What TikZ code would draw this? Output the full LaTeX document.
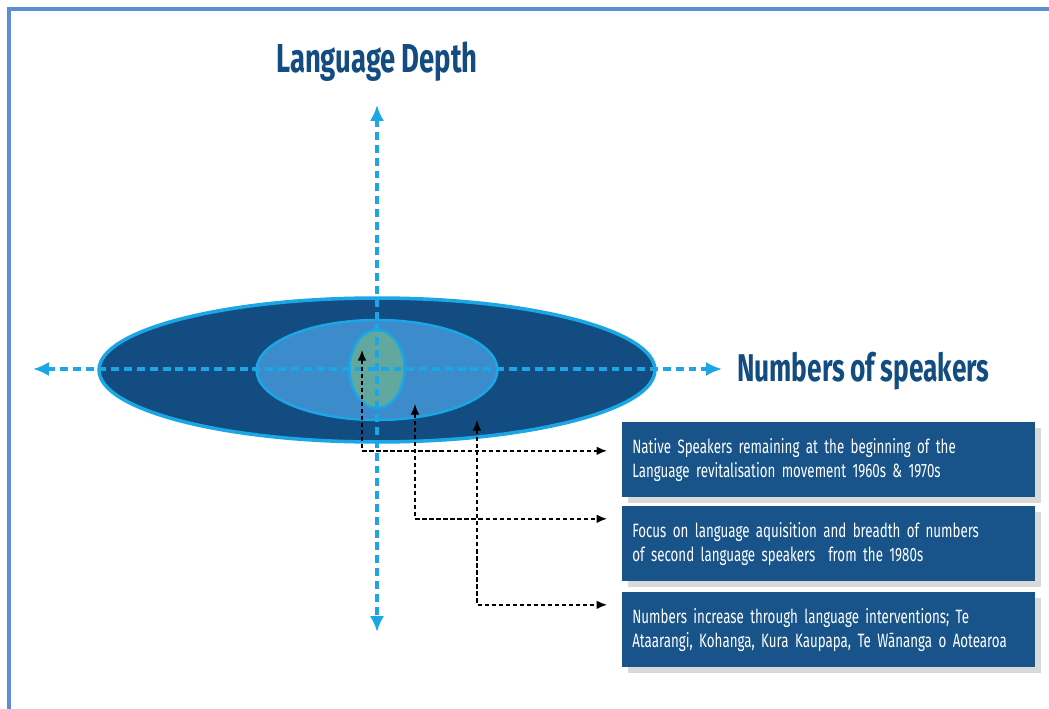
\documentclass[tikz,border=0pt]{standalone}
\usepackage{fontspec}
\newfontfamily\diafont{Fira Sans}[FakeStretch=0.69]
\newfontfamily\headfont{Fira Sans}[FakeStretch=0.68, WordSpace=0.9]
\newcommand\notefont{\diafont\fontsize{11}{14}\selectfont}
\usetikzlibrary{shapes.geometric, arrows.meta, shadows}

\definecolor{frameblue}{HTML}{5B8ED2}
\definecolor{deepblue}{HTML}{124C80}
\definecolor{midblue}{HTML}{3C8CCB}
\definecolor{tealgreen}{HTML}{63A89E}
\definecolor{skyline}{HTML}{1BA6E6}
\definecolor{boxblue}{HTML}{185489}

\begin{document}
\begin{tikzpicture}[
  x=0.02cm, y=-0.02cm,
  ring/.style={ellipse, draw=skyline, inner sep=0pt},
  axis/.style={draw=skyline, line width=2pt, dash pattern=on 4.5pt off 2.8pt,
               {Latex[length=9pt,width=8pt]}-{Latex[length=9pt,width=8pt]}},
  note/.style={fill=boxblue, text=white, anchor=north west, minimum width=8.26cm,
               minimum height=1.5cm, text width=7.86cm, inner xsep=0.2cm, align=left,
               font=\notefont,
               drop shadow={shadow xshift=3pt, shadow yshift=-3pt, fill=black, opacity=0.15}},
  conn/.style={draw=black, line width=1pt, dash pattern=on 2.5pt off 1.5pt,
               {Latex[length=6pt,width=5pt]}-{Latex[length=6pt,width=5pt]}},
  head/.style={text=deepblue, font=\headfont\bfseries\fontsize{23}{27}\selectfont}
]
\useasboundingbox (0,0) rectangle (1049,709);
\draw[frameblue, line width=1.8pt] (9,709) -- (9,9) -- (1049,9);

\node[ring, fill=deepblue, line width=2pt, minimum width=11.12cm, minimum height=2.88cm] (outer) at (377,370) {};
\node[ring, fill=midblue, line width=1.4pt, minimum width=4.82cm, minimum height=2.0cm] (middle) at (377,370) {};
\node[ring, fill=tealgreen, line width=1.4pt, minimum width=1.1cm, minimum height=1.56cm] (inner) at (377,369) {};

\coordinate (top) at (377,105);
\coordinate (bottom) at (377,632);
\coordinate (left) at (33,369);
\coordinate (right) at (722,369);
\draw[axis] (top) -- (bottom);
\draw[axis] (left) -- (right);

\node[head] (depth) at (377,62) {Language Depth};
\node[head, anchor=west, font=\headfont\bfseries\fontsize{22}{26}\selectfont] (speakers) at (731,371) {Numbers of speakers};

\node[note] (native) at (622,422) {Native Speakers remaining at the beginning of the\\Language revitalisation movement 1960s \& 1970s};
\node[note] (second) at (622,506) {Focus on language aquisition and breadth of numbers\\of second language speakers\ \ from the 1980s};
\node[note] (growth) at (622,592) {Numbers increase through language interventions; Te\\Ataarangi, Kohanga, Kura Kaupapa, Te Wānanga o Aotearoa};

\coordinate (t1) at (362,350);
\coordinate (t2) at (415,404);
\coordinate (t3) at (477,420);
\draw[conn] (t1) |- ([xshift=-8.5pt, yshift=0.18cm]native.west);
\draw[conn] (t2) |- ([xshift=-8.5pt, yshift=0.5cm]second.west);
\draw[conn] (t3) |- ([xshift=-8.5pt, yshift=0.5cm]growth.west);
\end{tikzpicture}
\end{document}
